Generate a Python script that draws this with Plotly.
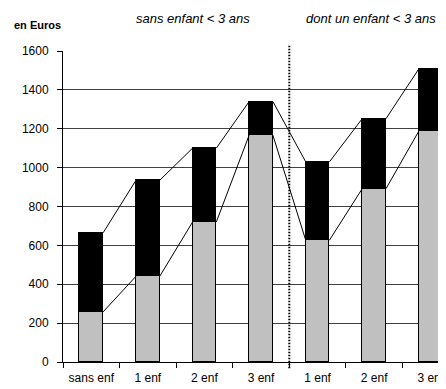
import plotly.graph_objects as go

categories = ["sans enf", "1 enf", "2 enf", "3 enf", "1 enf", "2 enf", "3 enf"]
base_values = [258, 441, 720, 1167, 627, 892, 1188]      # grey part
total_values = [665, 935, 1100, 1340, 1030, 1252, 1508]  # top of black part
extra_values = [t - b for t, b in zip(total_values, base_values)]
y_ticks = [0, 200, 400, 600, 800, 1000, 1200, 1400, 1600]
group_titles = ["sans enfant < 3 ans", "dont un enfant < 3 ans"]

xs = list(range(len(categories)))
W = 0.42
FONT = "Liberation Sans, Arial, sans-serif"

fig = go.Figure()
fig.add_trace(go.Bar(x=xs, y=base_values, width=W, marker=dict(color="#C0C0C0", line=dict(color="#000000", width=1)),
                     showlegend=False))
fig.add_trace(go.Bar(x=xs, y=extra_values, width=W, marker=dict(color="#000000", line=dict(color="#000000", width=1)),
                     showlegend=False))

def series_line(vals):
    lx, ly = [], []
    for i in range(len(vals) - 1):
        lx += [xs[i] + W / 2, xs[i + 1] - W / 2, None]
        ly += [vals[i], vals[i + 1], None]
    return lx, ly

for vals in (base_values, total_values):
    lx, ly = series_line(vals)
    fig.add_trace(go.Scatter(x=lx, y=ly, mode="lines", line=dict(color="#000000", width=1),
                             showlegend=False, hoverinfo="skip"))

fig.add_shape(type="line", x0=3.5, x1=3.5, xref="x", yref="paper", y0=-0.02, y1=1.02,
              line=dict(color="#000000", width=2, dash="1.5px,1.5px"))

fig.add_annotation(text="en Euros", xref="paper", yref="paper", x=-0.133, y=1.084, xanchor="left", yanchor="middle",
                   showarrow=False, font=dict(family=FONT, size=11, color="#000000", weight="bold"))
fig.add_annotation(text=group_titles[0], xref="x", yref="paper", x=1.8, y=1.106, xanchor="center", yanchor="middle",
                   showarrow=False, font=dict(family=FONT, size=13, color="#000000", style="italic"))
fig.add_annotation(text=group_titles[1], xref="x", yref="paper", x=4.94, y=1.106, xanchor="center", yanchor="middle",
                   showarrow=False, font=dict(family=FONT, size=13, color="#000000", style="italic"))

# page body has an 8px default margin, so the figure is sized to fit the remaining window
fig.update_layout(
    width=438, height=381,
    margin=dict(l=55, r=0, t=43, b=27),
    barmode="stack", bargap=0,
    plot_bgcolor="#FFFFFF", paper_bgcolor="#FFFFFF",
    font=dict(family=FONT, size=12, color="#000000"),
    xaxis=dict(range=[-0.5, 6.27], tickvals=xs, ticktext=categories, ticks="", showgrid=False,
               showline=True, linecolor="#000000", linewidth=1, zeroline=False, automargin=False,
               tickfont=dict(size=12), ticklabelstandoff=5,
               minor=dict(tickvals=[-0.5, 0.5, 1.5, 2.5, 3.5, 4.5, 5.5], ticks="outside", ticklen=5,
                          tickcolor="#000000", showgrid=False)),
    yaxis=dict(range=[0, 1600], tickvals=y_ticks, ticks="outside", ticklen=5, tickcolor="#000000",
               showgrid=True, gridcolor="#404040", gridwidth=1, showline=True, linecolor="#000000",
               linewidth=1, zeroline=False, automargin=False, tickfont=dict(size=12), ticklabelstandoff=6),
)

fig.write_html("out.html")
